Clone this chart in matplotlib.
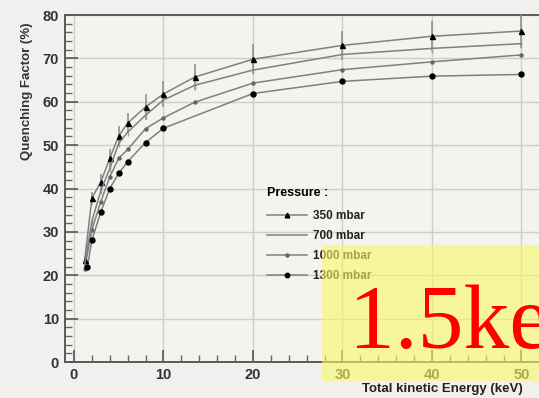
import matplotlib
matplotlib.use("Agg")
import matplotlib.pyplot as plt
from matplotlib.lines import Line2D
from matplotlib.patches import Rectangle
from matplotlib.ticker import MultipleLocator

# energy points (keV) and quenching factor (%) per pressure
x_350 = [1.2, 2, 3, 4, 5, 6, 8, 10, 13.5, 20, 30, 40, 50]
qf_350 = [23.5, 37.8, 41.5, 47.0, 52.1, 55.1, 58.8, 61.8, 65.7, 69.8, 73.0, 75.1, 76.3]
err_350 = [1.0, 1.5, 1.8, 2.0, 2.2, 2.4, 2.9, 3.0, 3.0, 3.4, 3.4, 3.5, 3.8]

x_700 = [1.2, 2, 3, 4, 5, 6, 8, 10, 13.5, 20, 30, 40, 50]
qf_700 = [22.5, 32.5, 39.5, 44.6, 50.4, 53.0, 56.9, 60.4, 63.8, 67.3, 70.9, 72.3, 73.4]
err_700 = [0.8, 0.8, 0.8, 0.8, 0.8, 0.8, 0.8, 0.8, 1.0, 1.0, 1.0, 1.0, 1.0]

x_1000 = [1.2, 2, 3, 4, 5, 6, 8, 10, 13.5, 20, 30, 40, 50]
qf_1000 = [21.5, 30.5, 37.0, 42.7, 47.0, 49.0, 53.8, 56.3, 59.9, 64.3, 67.4, 69.2, 70.8]

x_1300 = [1.5, 2, 3, 4, 5, 6, 8, 10, 20, 30, 40, 50]
qf_1300 = [21.9, 28.1, 34.6, 40.0, 43.5, 46.2, 50.6, 53.9, 61.9, 64.7, 65.9, 66.3]

labels = ["350 mbar", "700 mbar", "1000 mbar", "1300 mbar"]

W, H = 539, 398
fig = plt.figure(figsize=(W / 100, H / 100), dpi=100, facecolor="#f2f0ee")

# axes frame: left spine ~64px, y=0 at 362px, y=80 at 15px; right edge off-image
ax = fig.add_axes([64.5 / W, 1 - 362 / H, (568 - 64.5) / W, (362 - 15) / H])
ax.set_facecolor("#f5f3f0")
ax.set_xlim(-1.06, 55.2)
ax.set_ylim(0, 80)

line_c = "#808080"
ax.errorbar(x_350, qf_350, yerr=err_350, color=line_c, lw=1.1, marker="^", ms=3.6,
            mfc="black", mec="black", ecolor="#8a8a8a", elinewidth=1.1, capsize=0, zorder=4)
ax.errorbar(x_700, qf_700, yerr=err_700, color=line_c, lw=1.1, marker="",
            ecolor="#a0a0a0", elinewidth=1.0, capsize=0, zorder=4)
ax.plot(x_1000, qf_1000, color=line_c, lw=1.1, marker="o", ms=2.2,
        mfc="#666666", mec="#666666", zorder=4)
ax.plot(x_1300, qf_1300, color=line_c, lw=1.1, marker="o", ms=3.6,
        mfc="black", mec="black", zorder=4)

ax.xaxis.set_major_locator(MultipleLocator(10))
ax.xaxis.set_minor_locator(MultipleLocator(2))
ax.yaxis.set_major_locator(MultipleLocator(10))
ax.yaxis.set_minor_locator(MultipleLocator(2))
ax.grid(True, which="major", color="#cfcdca", lw=1.0)
ax.set_axisbelow(True)

for side in ["left", "bottom", "top"]:
    ax.spines[side].set_color("#5a5a5a")
    ax.spines[side].set_linewidth(1.4)
ax.spines["right"].set_visible(False)

ax.tick_params(which="major", direction="in", length=9, width=1.2, color="#555555",
               labelsize=10.5, labelcolor="#333333", pad=4)
ax.tick_params(which="minor", direction="in", length=5, width=1.0, color="#666666")
ax.tick_params(top=False, right=False, which="both")
for t in ax.get_xticklabels() + ax.get_yticklabels():
    t.set_fontweight("bold")
    t.set_family("Liberation Sans")

fig.text(27 / W, 1 - 91 / H, "Quenching Factor (%)", rotation=90, ha="center", va="center",
         fontsize=9.5, fontweight="bold", family="Liberation Sans", color="#333333")
fig.text(362 / W, 1 - 389 / H, "Total kinetic Energy (keV)", ha="left", va="center",
         fontsize=9.5, fontweight="bold", family="Liberation Sans", color="#222222")

handles = [
    Line2D([], [], color=line_c, lw=1.1, marker="^", ms=3.4, mfc="black", mec="black"),
    Line2D([], [], color=line_c, lw=1.1),
    Line2D([], [], color=line_c, lw=1.1, marker="o", ms=2.2, mfc="#666666", mec="#666666"),
    Line2D([], [], color=line_c, lw=1.1, marker="o", ms=3.2, mfc="black", mec="black"),
]
leg = ax.legend(handles, labels, title="Pressure :", loc="upper left",
                bbox_to_anchor=(256 / W, 1 - 176 / H), bbox_transform=fig.transFigure,
                frameon=False, handlelength=3.4, handletextpad=0.5, labelspacing=0.68,
                prop={"family": "Liberation Sans", "weight": "bold", "size": 8.5},
                title_fontproperties={"family": "Liberation Sans", "weight": "bold", "size": 9})
leg._legend_box.align = "left"
leg._legend_box.sep = 8
for t in leg.get_texts():
    t.set_color("#222222")

# pale yellow overlay box with red annotation
fig.add_artist(Rectangle((322 / W, 1 - 381 / H), (W - 322) / W, (381 - 245) / H,
                         transform=fig.transFigure, facecolor="#fbf86a", alpha=0.6,
                         edgecolor="none", zorder=5))
fig.text(349 / W, 1 - 348 / H, "1.5keV", ha="left", va="baseline", fontsize=66,
         family="Liberation Serif", color="#ff0000", zorder=6)

fig.savefig("out.png", dpi=100, facecolor=fig.get_facecolor())
